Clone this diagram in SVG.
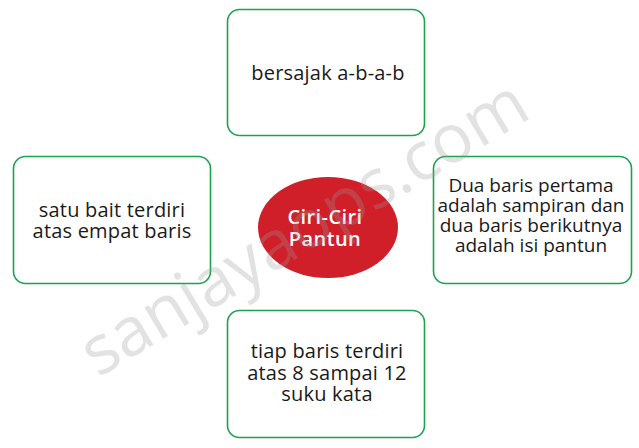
<svg xmlns="http://www.w3.org/2000/svg" width="639" height="448" viewBox="0 0 639 448">
<style>
.box{fill:#fff;stroke:#1ba24f;stroke-width:1.6}
.t{font-family:"Open Sans","Noto Sans",sans-serif;font-size:20px;letter-spacing:0.2px;fill:#1a1a1a;text-anchor:middle}
.s{font-size:19px;letter-spacing:0}
.c{font-family:"Open Sans","Noto Sans",sans-serif;font-size:20px;font-weight:600;letter-spacing:0.4px;fill:#fff;text-anchor:middle}
.wm{font-family:"Open Sans","Noto Sans",sans-serif;font-size:68px;fill:#9a9a9a;opacity:0.28}
</style>
<rect width="639" height="448" fill="#fff"/>
<g id="connectors"></g>
<g id="top">
<rect class="box" x="227.5" y="9.5" width="197" height="126" rx="12"/>
<text class="t" x="328" y="80">bersajak a-b-a-b</text>
</g>
<g id="left">
<rect class="box" x="13.5" y="156.5" width="197" height="127" rx="12"/>
<text class="t" x="112" y="217">satu bait terdiri<tspan x="112" dy="21">atas empat baris</tspan></text>
</g>
<g id="right">
<rect class="box" x="433.5" y="156.5" width="198" height="127" rx="12"/>
<text class="t s" x="531" y="192">Dua baris pertama<tspan x="531" dy="20">adalah sampiran dan</tspan><tspan x="531" dy="20">dua baris berikutnya</tspan><tspan x="531" dy="20">adalah isi pantun</tspan></text>
</g>
<g id="bottom">
<rect class="box" x="227.5" y="310.5" width="197" height="127" rx="12"/>
<text class="t" x="327" y="358">tiap baris terdiri<tspan x="327" dy="22">atas 8 sampai 12</tspan><tspan x="327" dy="21">suku kata</tspan></text>
</g>
<g id="center">
<ellipse cx="328" cy="227.5" rx="70" ry="50.5" fill="#d11f2a"/>
<text class="c" x="325" y="224">Ciri-Ciri<tspan x="325" dy="22">Pantun</tspan></text>
</g>
<text class="wm" transform="translate(98,378) rotate(-31)">sanjayaops.com</text>
</svg>
